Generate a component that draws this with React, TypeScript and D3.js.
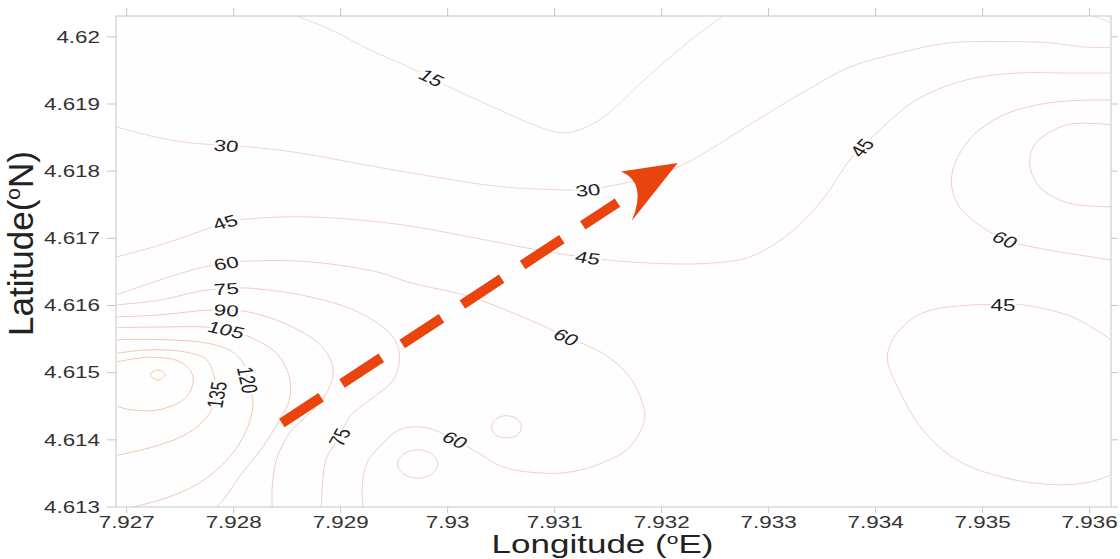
import React, { useEffect, useRef } from "react"
import * as d3 from "d3"

type Pt = [number, number]

const W = 1120
const H = 559
const margin = { top: 16, right: 9, bottom: 52, left: 116 }

// map window (degrees)
const lonRange: Pt = [7.9269, 7.9362]
const latRange: Pt = [4.613, 4.62031]
const xTicks = [7.927, 7.928, 7.929, 7.93, 7.931, 7.932, 7.933, 7.934, 7.935, 7.936]
const yTicks = [4.613, 4.614, 4.615, 4.616, 4.617, 4.618, 4.619, 4.62]

// contour lines, [lon, lat]
const iso15: Pt[] = [
	[7.92859, 4.62031], [7.9289, 4.62011], [7.92927, 4.61981], [7.92965, 4.61954],
	[7.92985, 4.61939], [7.93011, 4.61918], [7.93049, 4.61891], [7.93077, 4.61871],
	[7.93108, 4.61857], [7.93133, 4.61868], [7.93156, 4.61894], [7.93179, 4.61929],
	[7.93203, 4.61963], [7.93231, 4.62], [7.93257, 4.62031],
]
const iso15corner: Pt[] = [[7.93603, 4.62031], [7.93609, 4.62028], [7.9362, 4.62021]]
const iso30: Pt[] = [
	[7.9269, 4.61866], [7.92721, 4.61853], [7.9275, 4.61844], [7.92793, 4.61838],
	[7.92815, 4.61836], [7.92862, 4.61827], [7.92924, 4.61809], [7.92986, 4.61792],
	[7.93049, 4.61777], [7.93111, 4.61772], [7.93131, 4.61772], [7.93149, 4.61777],
	[7.93179, 4.61787], [7.93214, 4.61805], [7.93245, 4.61832], [7.93282, 4.61869],
	[7.93336, 4.61921], [7.93376, 4.61955], [7.93422, 4.61976], [7.93469, 4.61991],
	[7.93516, 4.61993], [7.93563, 4.61991], [7.93594, 4.61985], [7.9362, 4.61984],
]
const iso45: Pt[] = [
	[7.9269, 4.61672], [7.92731, 4.6169], [7.92768, 4.6171], [7.92792, 4.61724],
	[7.92815, 4.61729], [7.92852, 4.61732], [7.92896, 4.6173], [7.92958, 4.6172],
	[7.93021, 4.61702], [7.93083, 4.61683], [7.93131, 4.61671], [7.93161, 4.61666],
	[7.93208, 4.61662], [7.93245, 4.61663], [7.93282, 4.61672], [7.9332, 4.61708],
	[7.9335, 4.61757], [7.93376, 4.61817], [7.93387, 4.61835], [7.93397, 4.61851],
	[7.93438, 4.61906], [7.93485, 4.61936], [7.93532, 4.61946], [7.93579, 4.61946],
	[7.9362, 4.61946],
]
const iso45b: Pt[] = [
	[7.9362, 4.61549], [7.93584, 4.61583], [7.93537, 4.61601], [7.93519, 4.61601],
	[7.93491, 4.61601], [7.93444, 4.61589], [7.9342, 4.61559], [7.93411, 4.61523],
	[7.93422, 4.61474], [7.93444, 4.61415], [7.93476, 4.6137], [7.93522, 4.61343],
	[7.93569, 4.61333], [7.936, 4.61337], [7.9362, 4.61348],
]
const iso60: Pt[] = [
	[7.92691, 4.61616], [7.92731, 4.61638], [7.92771, 4.61657], [7.92793, 4.61663],
	[7.92812, 4.61666], [7.92871, 4.61665], [7.92934, 4.6165], [7.92965, 4.61634],
	[7.93021, 4.61613], [7.93083, 4.61574], [7.93111, 4.61553], [7.93145, 4.61529],
	[7.9317, 4.61494], [7.93182, 4.61455], [7.93184, 4.6143], [7.9317, 4.61389],
	[7.93145, 4.61366], [7.93114, 4.61352], [7.93083, 4.61351], [7.93051, 4.6136],
	[7.93027, 4.61382], [7.93007, 4.614], [7.9298, 4.61418], [7.92955, 4.61415],
	[7.92936, 4.61389], [7.92925, 4.61367], [7.92921, 4.61343], [7.9292, 4.61318],
	[7.92921, 4.613],
]
const iso60r: Pt[] = [
	[7.9362, 4.61906], [7.93563, 4.61902], [7.93516, 4.61881], [7.93485, 4.61842],
	[7.93471, 4.61792], [7.93476, 4.61753], [7.93494, 4.61723], [7.93521, 4.61698],
	[7.93547, 4.61687], [7.9362, 4.61668],
]
const iso75: Pt[] = [
	[7.92691, 4.61601], [7.92731, 4.61608], [7.92771, 4.61622], [7.92793, 4.61625],
	[7.92812, 4.61626], [7.92871, 4.61613], [7.92918, 4.61589], [7.92949, 4.61553],
	[7.92955, 4.61523], [7.92949, 4.61489], [7.92927, 4.61459], [7.92908, 4.61434],
	[7.92899, 4.61404], [7.92887, 4.61374], [7.92883, 4.61336], [7.92882, 4.613],
]
const iso75r: Pt[] = [
	[7.9362, 4.61869], [7.93579, 4.61869], [7.9355, 4.61842], [7.93544, 4.61812],
	[7.93553, 4.61777], [7.93579, 4.61753], [7.9362, 4.61747],
]
const iso75a: Pt[] = [
	[7.92953, 4.61364], [7.92959, 4.61379], [7.92972, 4.61385], [7.92985, 4.61379],
	[7.92991, 4.61364], [7.92985, 4.61349], [7.92972, 4.61343], [7.92959, 4.61349],
]
const iso75b: Pt[] = [
	[7.93041, 4.61419], [7.93045, 4.61431], [7.93055, 4.61436], [7.93065, 4.61431],
	[7.93069, 4.61419], [7.93065, 4.61407], [7.93055, 4.61403], [7.93045, 4.61407],
]
const iso90: Pt[] = [
	[7.92691, 4.61583], [7.92731, 4.61586], [7.92775, 4.61593], [7.92793, 4.61593],
	[7.92815, 4.6159], [7.92855, 4.61568], [7.92883, 4.61538], [7.92893, 4.61504],
	[7.92887, 4.6147], [7.92871, 4.6144], [7.92852, 4.6141], [7.9284, 4.6137],
	[7.92836, 4.6133], [7.92836, 4.613],
]
const iso105: Pt[] = [
	[7.92691, 4.61567], [7.92731, 4.61568], [7.92773, 4.61568], [7.92793, 4.61564],
	[7.92815, 4.61553], [7.9284, 4.61529], [7.92852, 4.61494], [7.92852, 4.61459],
	[7.92843, 4.6143], [7.92827, 4.61389], [7.92808, 4.61351], [7.9279, 4.6131],
	[7.92784, 4.613],
]
const iso120: Pt[] = [
	[7.92691, 4.61549], [7.92736, 4.61549], [7.92775, 4.61544], [7.92799, 4.61531],
	[7.9281, 4.61511], [7.92813, 4.61489], [7.92818, 4.61455], [7.92812, 4.61415],
	[7.92796, 4.61374], [7.92768, 4.61336], [7.92736, 4.61313], [7.92706, 4.613],
]
const iso135: Pt[] = [
	[7.92691, 4.61529], [7.92721, 4.61534], [7.92754, 4.61531], [7.92775, 4.61519],
	[7.92782, 4.61492], [7.92784, 4.61467], [7.92775, 4.61434], [7.92754, 4.61407],
	[7.92721, 4.61388], [7.92691, 4.61377],
]
const iso150: Pt[] = [
	[7.92691, 4.61516], [7.92721, 4.61523], [7.9275, 4.61516], [7.92762, 4.61494],
	[7.92756, 4.61464], [7.92731, 4.61445], [7.92703, 4.61445], [7.92691, 4.6145],
]
const iso165: Pt[] = [
	[7.92722, 4.61497], [7.92729, 4.61504], [7.92736, 4.61497], [7.92729, 4.61489],
]

const contourLines = [
	{ level: 15, pts: iso15, closed: false },
	{ level: 15, pts: iso15corner, closed: false },
	{ level: 30, pts: iso30, closed: false },
	{ level: 45, pts: iso45, closed: false },
	{ level: 45, pts: iso45b, closed: false },
	{ level: 60, pts: iso60, closed: false },
	{ level: 60, pts: iso60r, closed: false },
	{ level: 75, pts: iso75, closed: false },
	{ level: 75, pts: iso75r, closed: false },
	{ level: 75, pts: iso75a, closed: true },
	{ level: 75, pts: iso75b, closed: true },
	{ level: 90, pts: iso90, closed: false },
	{ level: 105, pts: iso105, closed: false },
	{ level: 120, pts: iso120, closed: false },
	{ level: 135, pts: iso135, closed: false },
	{ level: 150, pts: iso150, closed: false },
	{ level: 165, pts: iso165, closed: true },
]

const contourLabels = [
	{ level: 15, lon: 7.92985, lat: 4.61939 },
	{ level: 30, lon: 7.92793, lat: 4.61838 },
	{ level: 30, lon: 7.93131, lat: 4.61772 },
	{ level: 45, lon: 7.92792, lat: 4.61724 },
	{ level: 45, lon: 7.93131, lat: 4.61671 },
	{ level: 45, lon: 7.93387, lat: 4.61835 },
	{ level: 45, lon: 7.93519, lat: 4.61601 },
	{ level: 60, lon: 7.92793, lat: 4.61663 },
	{ level: 60, lon: 7.93111, lat: 4.61553 },
	{ level: 60, lon: 7.93007, lat: 4.614 },
	{ level: 60, lon: 7.93521, lat: 4.61698 },
	{ level: 75, lon: 7.92793, lat: 4.61625 },
	{ level: 75, lon: 7.92899, lat: 4.61404 },
	{ level: 90, lon: 7.92793, lat: 4.61593 },
	{ level: 105, lon: 7.92793, lat: 4.61564 },
	{ level: 120, lon: 7.92813, lat: 4.61489 },
	{ level: 135, lon: 7.92784, lat: 4.61467 },
]

// flow direction arrow, tail and tip
const arrowFrom: Pt = [7.92845, 4.61425]
const arrowTo: Pt = [7.93215, 4.61812]

const FONT = "'Liberation Sans', Arial, sans-serif"
const STRETCH = 1.4

export default function App() {
	const ref = useRef<SVGSVGElement>(null)

	useEffect(() => {
		const svg = d3.select(ref.current)
		svg.selectAll("*").remove()

		const x = d3.scaleLinear().domain(lonRange).range([margin.left, W - margin.right])
		const y = d3.scaleLinear().domain(latRange).range([H - margin.bottom, margin.top])
		const x0 = margin.left
		const x1 = W - margin.right
		const y0 = margin.top
		const y1 = H - margin.bottom

		const lineColor = d3
			.scaleLinear<string>()
			.domain([15, 60, 165])
			.range(["#f2d2d2", "#f0c6c2", "#f2bf9e"])

		svg.append("defs")
			.append("clipPath")
			.attr("id", "plotClip")
			.append("rect")
			.attr("x", x0)
			.attr("y", y0)
			.attr("width", x1 - x0)
			.attr("height", y1 - y0)

		svg.append("rect")
			.attr("x", x0)
			.attr("y", y0)
			.attr("width", x1 - x0)
			.attr("height", y1 - y0)
			.attr("fill", "#fefefe")

		/* ---------- contour lines ---------- */
		const gLines = svg.append("g").attr("clip-path", "url(#plotClip)")
		const open = d3
			.line<Pt>()
			.x((d) => x(d[0]))
			.y((d) => y(d[1]))
			.curve(d3.curveCatmullRom.alpha(0.5))
		const closed = d3
			.line<Pt>()
			.x((d) => x(d[0]))
			.y((d) => y(d[1]))
			.curve(d3.curveCatmullRomClosed.alpha(0.5))

		gLines
			.selectAll("path")
			.data(contourLines)
			.join("path")
			.attr("d", (d) => (d.closed ? closed(d.pts) : open(d.pts)))
			.attr("fill", "none")
			.attr("stroke", (d) => lineColor(d.level))
			.attr("stroke-width", 0.9)

		/* ---------- contour labels, aligned with their line ---------- */
		const labelAngle = (lab: { level: number; lon: number; lat: number }) => {
			const px = x(lab.lon)
			const py = y(lab.lat)
			let best: { pts: Pt[]; i: number } | null = null
			let bd = Infinity
			contourLines
				.filter((c) => c.level === lab.level)
				.forEach((c) =>
					c.pts.forEach((p, i) => {
						const d = (x(p[0]) - px) ** 2 + (y(p[1]) - py) ** 2
						if (d < bd) {
							bd = d
							best = { pts: c.pts, i }
						}
					})
				)
			if (!best) return 0
			const { pts, i } = best as { pts: Pt[]; i: number }
			const a = pts[Math.max(0, i - 1)]
			const b = pts[Math.min(pts.length - 1, i + 1)]
			let ang = (Math.atan2(y(b[1]) - y(a[1]), x(b[0]) - x(a[0])) * 180) / Math.PI
			if (ang > 90) ang -= 180
			if (ang <= -90) ang += 180
			// undo the horizontal stretch so the label follows the line on screen
			const r = (ang * Math.PI) / 180
			return (Math.atan2(Math.sin(r), Math.cos(r) / STRETCH) * 180) / Math.PI
		}

		svg.append("g")
			.selectAll("text")
			.data(contourLabels)
			.join("text")
			.attr(
				"transform",
				(d) => `translate(${x(d.lon)},${y(d.lat)}) scale(${STRETCH},1) rotate(${labelAngle(d)})`
			)
			.attr("text-anchor", "middle")
			.attr("dy", "0.36em")
			.attr("font-family", FONT)
			.attr("font-size", 16)
			.attr("fill", "#1e1e1e")
			.attr("stroke", "#fefefe")
			.attr("stroke-width", 4)
			.attr("paint-order", "stroke")
			.text((d) => String(d.level))

		/* ---------- dashed arrow ---------- */
		const p0: Pt = [x(arrowFrom[0]), y(arrowFrom[1])]
		const p1: Pt = [x(arrowTo[0]), y(arrowTo[1])]
		const len = Math.hypot(p1[0] - p0[0], p1[1] - p0[1])
		const ux = (p1[0] - p0[0]) / len
		const uy = (p1[1] - p0[1]) / len
		const vx = -uy
		const vy = ux
		const at = (along: number, perp: number): Pt => [
			p1[0] + ux * along + vx * perp,
			p1[1] + uy * along + vy * perp,
		]
		const arrowColor = "#e9440e"
		const shaftEnd = at(-72, 0)
		svg.append("line")
			.attr("x1", p0[0])
			.attr("y1", p0[1])
			.attr("x2", shaftEnd[0])
			.attr("y2", shaftEnd[1])
			.attr("stroke", arrowColor)
			.attr("stroke-width", 10)
			.attr("stroke-dasharray", "47 25")
		const bL = at(-70, 23)
		const bR = at(-52, -24)
		const ctrl = at(-36, 0)
		svg.append("path")
			.attr("d", `M${p1[0]},${p1[1]} L${bL[0]},${bL[1]} Q${ctrl[0]},${ctrl[1]} ${bR[0]},${bR[1]} Z`)
			.attr("fill", arrowColor)

		/* ---------- frame and ticks ---------- */
		const axisColor = "#c6c6c6"
		svg.append("rect")
			.attr("x", x0)
			.attr("y", y0)
			.attr("width", x1 - x0)
			.attr("height", y1 - y0)
			.attr("fill", "none")
			.attr("stroke", axisColor)

		const gTicks = svg.append("g").attr("stroke", axisColor)
		xTicks.forEach((t) => {
			gTicks.append("line").attr("x1", x(t)).attr("x2", x(t)).attr("y1", y1).attr("y2", y1 + 6)
			gTicks.append("line").attr("x1", x(t)).attr("x2", x(t)).attr("y1", y0 - 8).attr("y2", y0)
		})
		yTicks.forEach((t) => {
			gTicks.append("line").attr("x1", x0 - 9).attr("x2", x0).attr("y1", y(t)).attr("y2", y(t))
			gTicks.append("line").attr("x1", x1).attr("x2", x1 + 7).attr("y1", y(t)).attr("y2", y(t))
		})

		const fmt = (v: number) => String(+v.toFixed(3))
		svg.append("g")
			.selectAll("text")
			.data(xTicks)
			.join("text")
			.attr("transform", (d) => `translate(${x(d)},${y1 + 21}) scale(${STRETCH},1)`)
			.attr("text-anchor", "middle")
			.attr("font-family", FONT)
			.attr("font-size", 16)
			.attr("fill", "#333")
			.text(fmt)
		svg.append("g")
			.selectAll("text")
			.data(yTicks)
			.join("text")
			.attr("transform", (d) => `translate(${x0 - 16},${y(d)}) scale(${STRETCH},1)`)
			.attr("text-anchor", "end")
			.attr("dy", "0.36em")
			.attr("font-family", FONT)
			.attr("font-size", 16)
			.attr("fill", "#333")
			.text(fmt)

		/* ---------- axis titles ---------- */
		const xt = svg.append("text")
			.attr("transform", `translate(${(x0 + x1) / 2 - 11},${H - 6}) scale(${STRETCH},1)`)
			.attr("text-anchor", "middle")
			.attr("font-family", FONT)
			.attr("font-size", 25)
			.attr("fill", "#222")
		xt.append("tspan").text("Longitude (")
		xt.append("tspan").attr("font-size", 15).attr("dy", -9).text("o")
		xt.append("tspan").attr("dy", 9).text("E)")

		const yt = svg.append("text")
			.attr("transform", `translate(33,${(y0 + y1) / 2 - 18}) rotate(-90)`)
			.attr("text-anchor", "middle")
			.attr("font-family", FONT)
			.attr("font-size", 35)
			.attr("fill", "#222")
		yt.append("tspan").text("Latitude(")
		yt.append("tspan").attr("font-size", 21).attr("dy", -13).text("o")
		yt.append("tspan").attr("dy", 13).text("N)")
	}, [])

	return (
		<svg
			ref={ref}
			width={W}
			height={H}
			style={{ position: "absolute", left: 0, top: 0, background: "#fff" }}
		/>
	)
}
